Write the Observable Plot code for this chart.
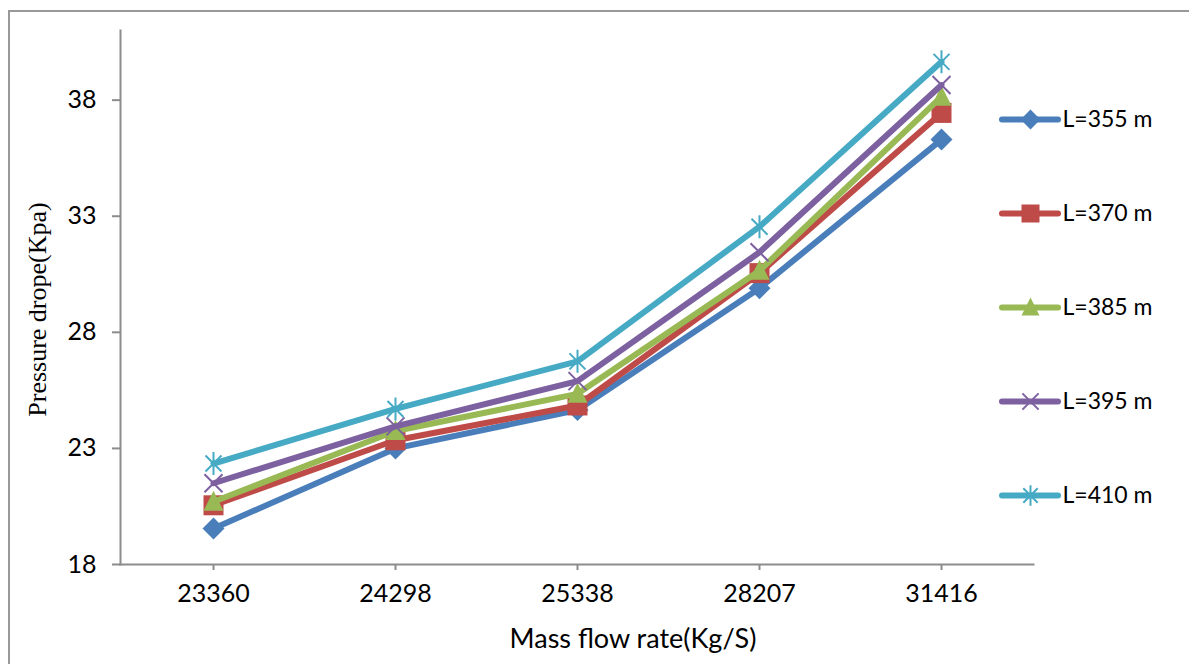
<!DOCTYPE html>
<html><head><meta charset="utf-8">
<script src="https://cdn.jsdelivr.net/npm/d3@7"></script>
<script src="https://cdn.jsdelivr.net/npm/@observablehq/plot@0.6"></script>
<style>
body{margin:0;background:#fff;}
#wrap{position:relative;width:1189px;height:664px;overflow:hidden;background:#fff;}
#border{position:absolute;left:8px;top:10px;width:1200px;height:700px;border:2px solid #999;box-sizing:border-box;}
#chart{position:absolute;top:0;left:0;width:1189px;}
#legend{position:absolute;top:0;left:1002px;width:187px;}
</style></head><body>
<div id="wrap"><div id="border"></div><div id="chart"></div><div id="legend"></div></div>
<script>
const categories = ["23360", "24298", "25338", "28207", "31416"];
const seriesNames = ["L=355 m", "L=370 m", "L=385 m", "L=395 m", "L=410 m"];
const L355 = [19.55, 23.0, 24.65, 29.9, 36.3];
const L370 = [20.55, 23.35, 24.85, 30.55, 37.45];
const L385 = [20.7, 23.75, 25.35, 30.65, 38.15];
const L395 = [21.5, 23.95, 25.9, 31.45, 38.65];
const L410 = [22.35, 24.7, 26.75, 32.55, 39.65];
const yTicks = [18, 23, 28, 33, 38];
const xTitle = "Mass flow rate(Kg/S)";
const yTitle = "Pressure drope(Kpa)";

const values = [L355, L370, L385, L395, L410];
const colors = ["#4A7EBB", "#BE4B48", "#98B954", "#7D60A0", "#46AAC5"];

const rad = s => Math.sqrt(s / Math.PI);
const diamondSym = {draw(c, s){const r = rad(s); c.moveTo(0,-r); c.lineTo(r,0); c.lineTo(0,r); c.lineTo(-r,0); c.closePath();}};
const squareSym = {draw(c, s){const r = rad(s); c.moveTo(-r,-r); c.lineTo(r,-r); c.lineTo(r,r); c.lineTo(-r,r); c.closePath();}};
const triangleSym = {draw(c, s){const r = rad(s); c.moveTo(0,-r*1.1); c.lineTo(r,r*0.9); c.lineTo(-r,r*0.9); c.closePath();}};
const xSym = {draw(c, s){const r = rad(s); c.moveTo(-r,-r); c.lineTo(r,r); c.moveTo(r,-r); c.lineTo(-r,r);}};
const starSym = {draw(c, s){const r = rad(s); c.moveTo(-r*0.8,-r*0.8); c.lineTo(r*0.8,r*0.8); c.moveTo(r*0.8,-r*0.8); c.lineTo(-r*0.8,r*0.8); c.moveTo(0,-r*1.15); c.lineTo(0,r*1.15);}};
const symbols = [diamondSym, squareSym, triangleSym, xSym, starSym];
const sizes = [11, 10, 10, 9, 10];
const filled = [true, true, true, false, false];

const rows = seriesNames.flatMap((s, i) => categories.map((c, j) => ({series: s, cat: c, value: values[i][j]})));

const seriesMarks = seriesNames.flatMap((s, i) => {
  const d = rows.filter(r => r.series === s);
  return [
    Plot.line(d, {x: "cat", y: "value", stroke: colors[i], strokeWidth: 6, strokeLinejoin: "round", strokeLinecap: "round"}),
    Plot.dot(d, filled[i]
      ? {x: "cat", y: "value", symbol: symbols[i], r: sizes[i], fill: colors[i], stroke: "none"}
      : {x: "cat", y: "value", symbol: symbols[i], r: sizes[i], fill: "none", stroke: colors[i], strokeWidth: 2})
  ];
});

const chart = Plot.plot({
  width: 1189, height: 664,
  marginLeft: 120, marginRight: 156, marginTop: 30, marginBottom: 100,
  style: {background: "transparent", fontFamily: "Lato, sans-serif", fontSize: "25px", color: "#000", overflow: "visible"},
  x: {type: "point", domain: categories, padding: 0.5, label: null},
  y: {domain: [18, 41], label: null},
  marks: [
    Plot.frame({anchor: "left", stroke: "#8c8c8c", strokeWidth: 2}),
    Plot.frame({anchor: "bottom", stroke: "#8c8c8c", strokeWidth: 2}),
    Plot.axisY({ticks: yTicks, tickSize: 8, tickPadding: 16, stroke: "#8c8c8c", strokeWidth: 2, fill: "#000", fontSize: 25, label: null}),
    Plot.axisX({tickSize: 6, tickPadding: 14, stroke: "#8c8c8c", strokeWidth: 2, fill: "#000", fontSize: 25, label: null}),
    ...seriesMarks,
    Plot.text([xTitle], {frameAnchor: "bottom", text: d => d, dx: 56, dy: 83, fontSize: 27, textAnchor: "middle", fill: "#000"}),
    Plot.text([yTitle], {frameAnchor: "left", text: d => d, dx: -83, dy: 12, rotate: -90, textAnchor: "middle", fontSize: 26, fontFamily: "Liberation Serif, serif", fill: "#000"})
  ]
});
document.getElementById("chart").append(chart);

const legendMarks = seriesNames.flatMap((s, i) => [
  Plot.ruleY([s], {y: d => d, x1: () => 0, x2: () => 1, stroke: colors[i], strokeWidth: 6, strokeLinecap: "round"}),
  Plot.dot([s], filled[i]
    ? {x: () => 0.5, y: d => d, symbol: symbols[i], r: sizes[i] * 0.9, fill: colors[i], stroke: "none"}
    : {x: () => 0.5, y: d => d, symbol: symbols[i], r: sizes[i] * 0.9, fill: "none", stroke: colors[i], strokeWidth: 2}),
  Plot.text([s], {x: () => 1, y: d => d, text: d => d, textAnchor: "start", dx: 4, fill: "#000"})
]);

const legend = Plot.plot({
  width: 187, height: 664,
  marginLeft: 0, marginRight: 131, marginTop: 118, marginBottom: 168,
  style: {background: "transparent", fontFamily: "Lato, sans-serif", fontSize: "23px", color: "#000", overflow: "visible"},
  x: {domain: [0, 1], axis: null},
  y: {type: "point", domain: seriesNames, padding: 0, axis: null},
  marks: legendMarks
});
document.getElementById("legend").append(legend);
</script>
</body></html>
